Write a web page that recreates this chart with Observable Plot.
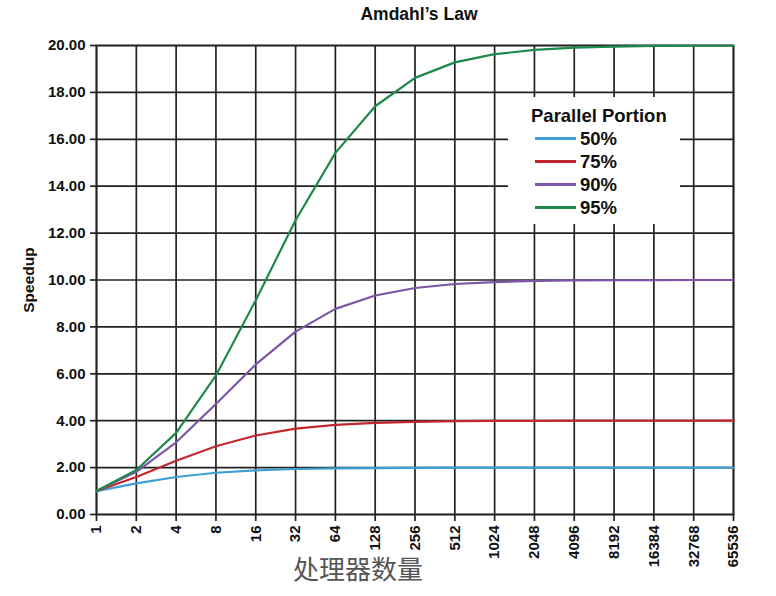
<!DOCTYPE html>
<html>
<head>
<meta charset="utf-8">
<script src="https://cdn.jsdelivr.net/npm/d3@7"></script>
<script src="https://cdn.jsdelivr.net/npm/@observablehq/plot@0.6"></script>
<style>
  body { margin: 0; background: #fff; font-family: "Liberation Sans", Arial, sans-serif; }
  #wrap { position: relative; width: 776px; height: 596px; }
  #title { height: 30px; line-height: 29px; text-align: center; font-weight: bold; font-size: 17.5px; padding-left: 62px; box-sizing: border-box; color: #111; }
  #legend { position: absolute; left: 508px; top: 97px; width: 172px; height: 127px; background: #fff; font-weight: bold; color: #111; }
  #legend .lt { position: absolute; left: 23px; top: 8px; font-size: 18.5px; line-height: 22px; white-space: nowrap; }
  #legend .row { position: absolute; left: 27px; height: 23px; line-height: 23px; font-size: 18.5px; }
  #legend .sw { position: absolute; left: 0; top: 10px; width: 41px; height: 3px; }
  #legend .lb { position: absolute; left: 45px; top: 0; }
  .ax text { font-weight: bold; }
</style>
</head>
<body>
<div id="wrap">
  <div id="title">Amdahl’s Law</div>
  <div id="chart"></div>
  <div id="legend"></div>
</div>
<script>
const processors = [1, 2, 4, 8, 16, 32, 64, 128, 256, 512, 1024, 2048, 4096, 8192, 16384, 32768, 65536];
const seriesNames = ["50%", "75%", "90%", "95%"];
const seriesColors = ["#3d9fd3", "#c4262e", "#7d55a6", "#1d8a4b"];
const speedup50 = [1.00, 1.33, 1.60, 1.78, 1.88, 1.94, 1.97, 1.98, 1.99, 2.00, 2.00, 2.00, 2.00, 2.00, 2.00, 2.00, 2.00];
const speedup75 = [1.00, 1.60, 2.29, 2.91, 3.37, 3.66, 3.82, 3.91, 3.95, 3.98, 3.99, 3.99, 4.00, 4.00, 4.00, 4.00, 4.00];
const speedup90 = [1.00, 1.82, 3.08, 4.71, 6.40, 7.80, 8.77, 9.34, 9.66, 9.83, 9.91, 9.96, 9.98, 9.99, 9.99, 10.00, 10.00];
const speedup95 = [1.00, 1.90, 3.48, 5.93, 9.14, 12.55, 15.42, 17.41, 18.62, 19.28, 19.63, 19.81, 19.91, 19.95, 19.98, 19.99, 19.99];
const yTicks = [0, 2, 4, 6, 8, 10, 12, 14, 16, 18, 20];

const allSeries = [speedup50, speedup75, speedup90, speedup95];
const rows = [];
allSeries.forEach((vals, si) => {
  vals.forEach((v, i) => rows.push({n: processors[i], s: v, series: seriesNames[si]}));
});

const chart = Plot.plot({
  width: 776,
  height: 566,
  marginLeft: 96,
  marginRight: 43,
  marginTop: 15,
  marginBottom: 82,
  style: { fontFamily: "Liberation Sans, Arial, sans-serif", fontSize: "15px", color: "#111" },
  x: { type: "log", base: 2, domain: [1, 65536] },
  y: { domain: [0, 20] },
  color: { domain: seriesNames, range: seriesColors },
  marks: [
    Plot.gridX(processors, { stroke: "#222", strokeOpacity: 1, strokeWidth: 1.7 }),
    Plot.gridY(yTicks, { stroke: "#222", strokeOpacity: 1, strokeWidth: 1.7 }),
    Plot.frame({ stroke: "#222", strokeWidth: 1.7 }),
    Plot.axisY(yTicks, { tickFormat: d => d.toFixed(2), tickSize: 6, tickPadding: 5, label: null, className: "ax", stroke: "#222", strokeWidth: 1.7, fontSize: 15 }),
    Plot.axisX(processors, { tickFormat: d => String(d), tickRotate: -90, tickSize: 7, tickPadding: 4, label: null, className: "ax", stroke: "#222", strokeWidth: 1.7, fontSize: 15 }),
    Plot.line(rows, { x: "n", y: "s", stroke: "series", z: "series", strokeWidth: 2.2, curve: "linear" }),
    Plot.text(["Speedup"], { x: () => processors[0], y: () => (yTicks[0] + yTicks[yTicks.length - 1]) / 2, dx: -67, rotate: -90, textAnchor: "middle", fontWeight: "bold", fontSize: 15.5, fill: "#111" }),
    Plot.text(["处理器数量"], { frameAnchor: "bottom", dx: -57, dy: 64, fontSize: 26, fill: "#555", fontFamily: "Noto Sans CJK SC" })
  ]
});
document.getElementById("chart").appendChild(chart);

const legend = document.getElementById("legend");
const lt = document.createElement("div");
lt.className = "lt";
lt.textContent = "Parallel Portion";
legend.appendChild(lt);
seriesNames.forEach((name, i) => {
  const r = document.createElement("div");
  r.className = "row";
  r.style.top = (29.5 + i * 23.3) + "px";
  r.innerHTML = `<div class="sw" style="background:${seriesColors[i]}"></div><div class="lb">${name}</div>`;
  legend.appendChild(r);
});
</script>
</body>
</html>
